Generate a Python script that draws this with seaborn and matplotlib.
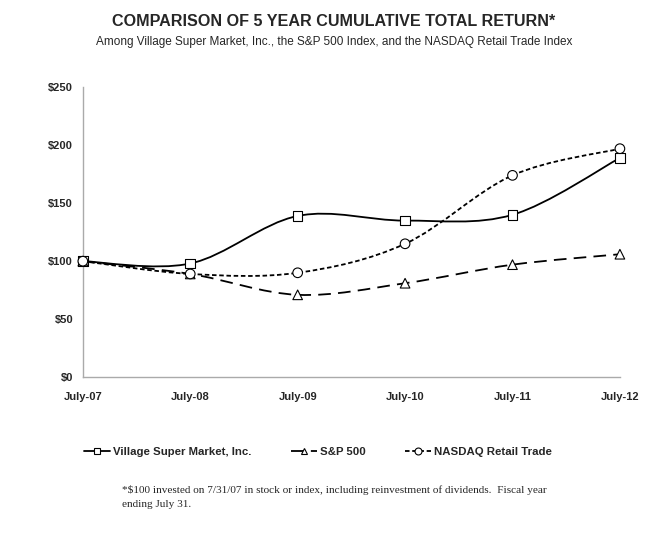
import numpy as np
import pandas as pd
import matplotlib
matplotlib.use("Agg")
from matplotlib import pyplot as plt
from matplotlib.path import Path
from matplotlib.patches import PathPatch
from matplotlib.lines import Line2D
import seaborn as sns

years = ["July-07", "July-08", "July-09", "July-10", "July-11", "July-12"]
village = [100, 98, 139, 135, 140, 189]
sp500 = [100, 89, 71, 81, 97, 106]
nasdaq = [100, 89, 90, 115, 174, 197]

series_names = ["Village Super Market, Inc.", "S&P 500", "NASDAQ Retail Trade"]
series_values = [village, sp500, nasdaq]
dash_styles = ["-", (0, (7, 4)), (0, (2.5, 1.5))]
marker_styles = ["s", "^", "o"]
yticks = [0, 50, 100, 150, 200, 250]


def smooth_path(xs, ys):
    # excel-style smoothed line: cubic bezier through every point
    pts = np.column_stack([xs, ys]).astype(float)
    n = len(pts)
    verts = [pts[0]]
    codes = [Path.MOVETO]
    for i in range(n - 1):
        p0 = pts[i - 1] if i > 0 else pts[i]
        p1 = pts[i]
        p2 = pts[i + 1]
        p3 = pts[i + 2] if i + 2 < n else pts[i + 1]
        c1 = p1 + (p2 - p0) / 6.0
        c2 = p2 - (p3 - p1) / 6.0
        verts += [c1, c2, p2]
        codes += [Path.CURVE4] * 3
    return Path(verts, codes)


df = pd.DataFrame({
    "year": years * 3,
    "pos": list(range(len(years))) * 3,
    "value": village + sp500 + nasdaq,
    "series": [s for s in series_names for _ in years],
})

sns.set_style("white")
plt.rcParams["font.family"] = ["Liberation Sans", "DejaVu Sans"]

fig = plt.figure(figsize=(6.68, 5.35), dpi=100)
ax = fig.add_axes([0.124, 0.295, 0.804, 0.542])

xpos = np.arange(len(years))
for vals, ls in zip(series_values, dash_styles):
    patch = PathPatch(smooth_path(xpos, vals), fill=False, edgecolor="black",
                      linewidth=1.3, linestyle=ls, zorder=2, clip_on=False)
    ax.add_patch(patch)

sns.scatterplot(data=df, x="pos", y="value", hue="series", style="series",
                markers=dict(zip(series_names, marker_styles)),
                palette=["white"] * 3, edgecolor="black", linewidth=0.8,
                s=48, legend=False, ax=ax, zorder=3, clip_on=False)

ax.set_xlim(0, len(years) - 1)
ax.set_ylim(0, 250)
ax.set_xticks(xpos)
ax.set_xticklabels(years)
ax.set_yticks(yticks)
ax.set_yticklabels([f"${v}" for v in yticks])
ax.set_xlabel("")
ax.set_ylabel("")
for lab in ax.get_xticklabels() + ax.get_yticklabels():
    lab.set_fontweight("bold")
    lab.set_fontsize(8)
ax.tick_params(axis="x", length=3, width=0.8, color="#aaaaaa", pad=8)
ax.tick_params(axis="y", length=3, width=0.8, color="#aaaaaa", pad=4)
for side in ["top", "right"]:
    ax.spines[side].set_visible(False)
for side in ["left", "bottom"]:
    ax.spines[side].set_color("#aaaaaa")
    ax.spines[side].set_linewidth(1.0)

fig.text(0.5, 0.960, "COMPARISON OF 5 YEAR CUMULATIVE TOTAL RETURN*",
         ha="center", va="center", fontsize=11.6, fontweight="bold")
fig.text(0.5, 0.922, "Among Village Super Market, Inc., the S&P 500 Index, and the NASDAQ Retail Trade Index",
         ha="center", va="center", fontsize=8.5)

handles = [Line2D([0], [0], color="black", linewidth=1.3, linestyle=ls,
                  marker=m, markerfacecolor="white", markeredgecolor="black",
                  markersize=5, markeredgewidth=0.8)
           for ls, m in zip(dash_styles, marker_styles)]
fig.legend(handles, series_names, loc="center", bbox_to_anchor=(0.476, 0.155),
           ncol=3, frameon=False, handlelength=2.3, handletextpad=0.3,
           columnspacing=3.4, prop={"weight": "bold", "size": 8.2})

fig.text(0.183, 0.071,
         "*$100 invested on 7/31/07 in stock or index, including reinvestment of dividends.  Fiscal year\nending July 31.",
         ha="left", va="center", fontsize=8.1, family=["Liberation Serif", "DejaVu Serif"],
         linespacing=1.6)

fig.savefig("out.png", dpi=100, facecolor="white")
